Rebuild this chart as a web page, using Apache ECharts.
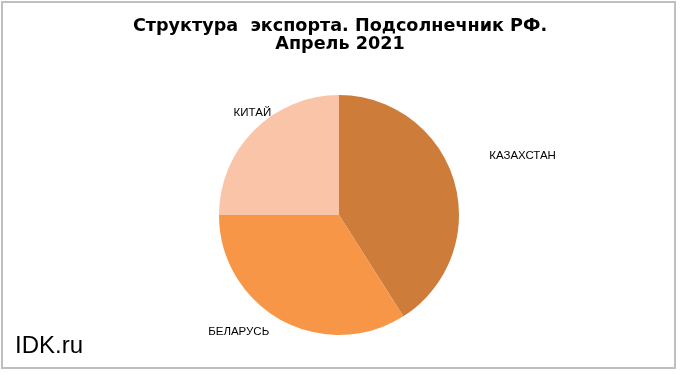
<!DOCTYPE html>
<html>
<head>
<meta charset="utf-8">
<script src="https://cdn.jsdelivr.net/npm/echarts@6/dist/echarts.min.js"></script>
<style>
html,body{margin:0;padding:0;background:#fff;}
#main{width:680px;height:374px;}
</style>
</head>
<body>
<div id="main"></div>
<script>
// Data
var categories = ['КАЗАХСТАН', 'БЕЛАРУСЬ', 'КИТАЙ'];
var values = [41, 34, 25];
var titleText = 'Структура  экспорта. Подсолнечник РФ.\nАпрель 2021';
var watermark = 'IDK.ru';

// Styles
var colors = ['#CD7C3A', '#F79646', '#FAC4A8'];
var labelShift = [[35, -26], [-12, 12], [17, -17]];

var chart = echarts.init(document.getElementById('main'));
var option = {
  animation: false,
  backgroundColor: '#ffffff',
  title: {
    text: titleText,
    left: 'center',
    top: 17,
    padding: 0,
    textStyle: {
      fontFamily: 'DejaVu Sans, Liberation Sans, sans-serif',
      fontSize: 17.6,
      fontWeight: 'bold',
      lineHeight: 18.5,
      color: '#000'
    }
  },
  graphic: [
    {
      type: 'rect',
      shape: {x: 2, y: 2, width: 673, height: 366},
      style: {fill: 'none', stroke: '#BFBFBF', lineWidth: 2},
      silent: true
    },
    {
      type: 'text',
      left: 15,
      top: 334,
      style: {
        text: watermark,
        fontFamily: 'Liberation Sans, Arial, sans-serif',
        fontSize: 24,
        fill: '#000'
      }
    }
  ],
  series: [{
    type: 'pie',
    center: [339, 215],
    radius: 120,
    startAngle: 90,
    clockwise: true,
    avoidLabelOverlap: false,
    itemStyle: {borderWidth: 0},
    label: {
      show: true,
      position: 'outside',
      fontFamily: 'Liberation Sans, Arial, sans-serif',
      fontSize: 11.5,
      color: '#000',
      distanceToLabelLine: 0
    },
    labelLine: {show: false, length: 0, length2: 0},
    labelLayout: function (p) {
      var s = labelShift[p.dataIndex];
      return {dx: s[0], dy: s[1]};
    },
    emphasis: {disabled: true},
    data: categories.map(function (c, i) {
      return {name: c, value: values[i], itemStyle: {color: colors[i]}};
    })
  }]
};
chart.setOption(option);
</script>
</body>
</html>
